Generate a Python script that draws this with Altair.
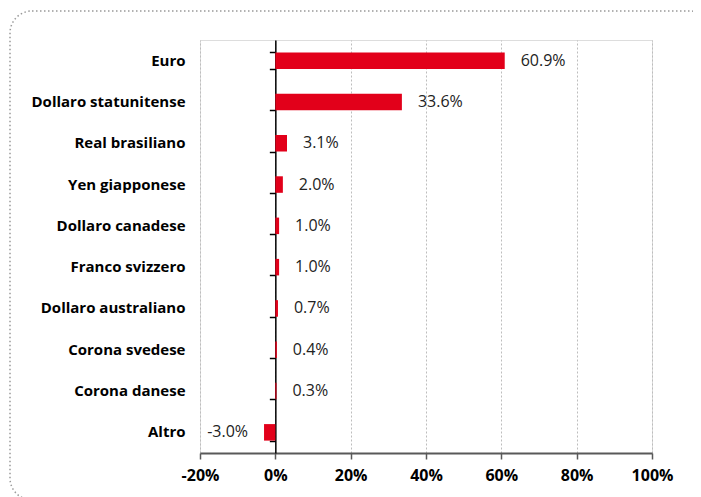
import altair as alt
import pandas as pd

categories = ["Euro", "Dollaro statunitense", "Real brasiliano", "Yen giapponese",
              "Dollaro canadese", "Franco svizzero", "Dollaro australiano",
              "Corona svedese", "Corona danese", "Altro"]
values = [60.9, 33.6, 3.1, 2.0, 1.0, 1.0, 0.7, 0.4, 0.3, -3.0]
x_ticks = [-20, 0, 20, 40, 60, 80, 100]

df = pd.DataFrame({"cat": categories, "v": values})

W, H = 452, 413
FONT = "Open Sans"
RED = "#E2001A"
xmin, xmax = -20, 100
zero_offset = W * (0 - xmin) / (xmax - xmin)

xscale = alt.Scale(domain=[xmin, xmax], nice=False, zero=False)
yscale = alt.Scale(domain=categories, paddingInner=0.6, paddingOuter=0.3)

base = alt.Chart(df)

bars = base.mark_bar(color=RED).encode(
    x=alt.X("v:Q", scale=xscale, title=None,
            axis=alt.Axis(values=x_ticks, labelExpr="datum.value + '%'",
                          labelFlush=False, labelOverlap=False,
                          grid=True, gridColor="#BDBDBD", gridDash=[2, 2], gridWidth=1,
                          domainColor="#595959", domainWidth=2,
                          tickColor="#595959", tickWidth=1.5, tickSize=6,
                          labelFont=FONT, labelFontSize=16, labelFontWeight="bold",
                          labelColor="#000000", labelPadding=8)),
    x2=alt.datum(0),
    y=alt.Y("cat:N", scale=yscale, sort=categories, title=None,
            axis=alt.Axis(domain=False, ticks=False, grid=False,
                          labelFont=FONT, labelFontSize=15, labelFontWeight="bold",
                          labelColor="#000000", labelPadding=15)),
)

label_calc = "replace(format(datum.v, '.1f'), '\u2212', '-') + '%'"

pos_text = base.transform_filter("datum.v >= 0").transform_calculate(
    lab=label_calc
).mark_text(align="left", baseline="middle", dx=16, font=FONT, fontSize=16,
            color="#222222").encode(
    x=alt.X("v:Q", scale=xscale),
    y=alt.Y("cat:N", scale=yscale, sort=categories,
            axis=alt.Axis(orient="left", offset=-zero_offset, labels=False,
                          title=None, grid=False, domainColor="#000000",
                          domainWidth=1.5, tickColor="#000000", tickWidth=1.5,
                          tickSize=6, tickBand="extent")),
    text="lab:N",
)

neg_text = base.transform_filter("datum.v < 0").transform_calculate(
    lab=label_calc
).mark_text(align="right", baseline="middle", dx=-16, font=FONT, fontSize=16,
            color="#222222").encode(
    x=alt.X("v:Q", scale=xscale),
    y=alt.Y("cat:N", scale=yscale, sort=categories, axis=None),
    text="lab:N",
)

frame = alt.Chart(pd.DataFrame({"f": [0]})).mark_rect(
    fill=None, stroke="#999999", strokeWidth=1.5, strokeDash=[1.5, 2.5],
    cornerRadius=22, clip=False
).encode(
    x=alt.value(10 - 200), x2=alt.value(712 - 200),
    y=alt.value(11 - 40), y2=alt.value(500 - 40),
)

chart = alt.layer(frame, bars, pos_text, neg_text).resolve_axis(
    y="independent"
).properties(
    width=W, height=H,
    autosize=alt.AutoSizeParams(type="none"),
    padding={"left": 192, "top": 32, "right": 41, "bottom": 60},
).configure_view(stroke=None).configure(background="white")

chart.save("out.html", embed_options={"renderer": "svg", "actions": False})
